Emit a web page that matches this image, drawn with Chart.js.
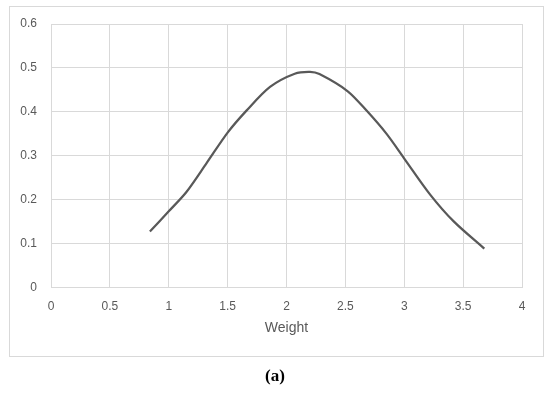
<!DOCTYPE html>
<html>
<head>
<meta charset="utf-8">
<script src="https://cdn.jsdelivr.net/npm/chart.js@4"></script>
<style>
  html, body { margin: 0; padding: 0; background: #fff; }
  #wrap { position: relative; width: 550px; height: 394px; }
  #frame { position: absolute; left: 9px; top: 6px; width: 533px; height: 349px; border: 1px solid #d9d9d9; }
  #cap { position: absolute; left: 0; width: 550px; top: 366px; text-align: center;
         font-family: "Liberation Serif", serif; font-weight: bold; font-size: 17px; color: #000; }
  canvas { position: absolute; left: 0; top: 0; }
</style>
</head>
<body>
<div id="wrap">
  <div id="frame"></div>
  <canvas id="c" width="550" height="394"></canvas>
  <div id="cap">(a)</div>
</div>
<script>
const weights = [0.84, 1.0, 1.15, 1.32, 1.5, 1.66, 1.86, 2.07, 2.2, 2.28, 2.52, 2.68, 2.85, 3.0, 3.22, 3.42, 3.68];
const values  = [0.128, 0.174, 0.218, 0.283, 0.353, 0.403, 0.457, 0.487, 0.491, 0.486, 0.447, 0.403, 0.35, 0.294, 0.212, 0.151, 0.089];
const xTitle = "Weight";

const points = weights.map((w, i) => ({ x: w, y: values[i] }));

new Chart(document.getElementById('c'), {
  type: 'scatter',
  data: {
    datasets: [{
      data: points,
      showLine: true,
      borderColor: '#595959',
      borderWidth: 2.25,
      pointRadius: 0,
      tension: 0.3,
      fill: false
    }]
  },
  options: {
    responsive: false,
    animation: false,
    layout: { padding: { top: 24, right: 28, bottom: 57, left: 0 } },
    plugins: { legend: { display: false }, tooltip: { enabled: false } },
    scales: {
      x: {
        type: 'linear', min: 0, max: 4,
        ticks: { stepSize: 0.5, color: '#595959', padding: 12, font: { family: 'Liberation Sans', size: 12 },
                 callback: (v) => String(Math.round(v * 10) / 10) },
        grid: { color: '#d9d9d9', drawTicks: false },
        border: { color: '#d9d9d9' },
        title: { display: true, text: xTitle, color: '#595959', padding: { top: -6, bottom: 0 },
                 font: { family: 'Liberation Sans', size: 14 } }
      },
      y: {
        type: 'linear', min: 0, max: 0.6,
        ticks: { stepSize: 0.1, color: '#595959', padding: 14, font: { family: 'Liberation Sans', size: 12 },
                 callback: (v) => String(Math.round(v * 10) / 10) },
        grid: { color: '#d9d9d9', drawTicks: false },
        border: { color: '#d9d9d9' },
        afterFit: (s) => { s.width = 51; }
      }
    }
  }
});
</script>
</body>
</html>
